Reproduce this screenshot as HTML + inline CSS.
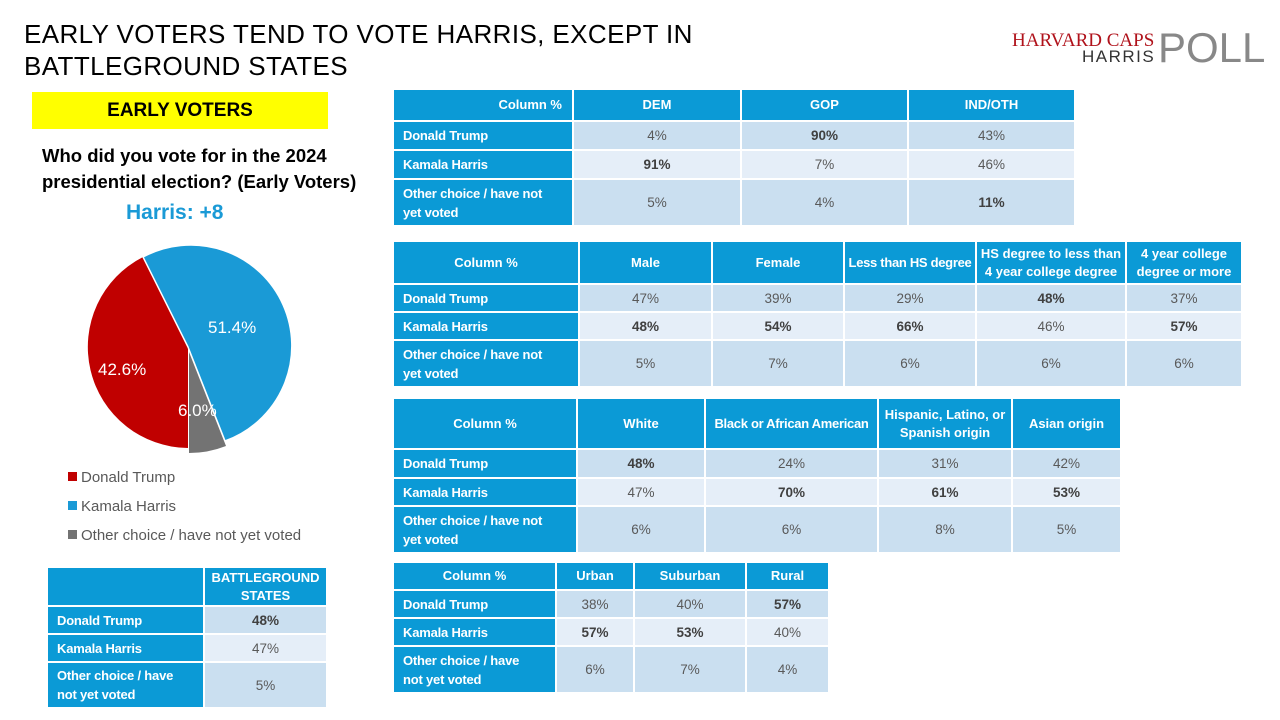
<!DOCTYPE html>
<html><head><meta charset="utf-8"><style>
body{margin:0;width:1280px;height:720px;background:#fff;position:relative;overflow:hidden;font-family:"Liberation Sans",sans-serif}
.t{position:absolute;border-collapse:separate;border-spacing:2px;table-layout:fixed;margin:-2px}
.t td{padding:0;font-size:13.5px;text-align:center;color:#595959;overflow:hidden}
.t td.h{background:#0b9ad6;color:#fff;font-weight:bold;font-size:13px;line-height:18px}
.t td.l{background:#0b9ad6;color:#fff;font-weight:bold;text-align:left;padding-left:9px;padding-right:4px;font-size:13px;line-height:19px;letter-spacing:-0.2px}
.t tr.a td:not(.l){background:#cadff0}
.t tr.b td:not(.l){background:#e5eef8}
.t b{color:#404040}
</style></head><body>
<div style="position:absolute;left:24px;top:18px;font-size:26px;line-height:32px;color:#000;letter-spacing:0.4px">EARLY VOTERS TEND TO VOTE HARRIS, EXCEPT IN<br>BATTLEGROUND STATES</div>
<div style="position:absolute;left:1012px;top:30px;font-family:'Liberation Serif',serif;font-size:19px;color:#b0121b;letter-spacing:0">HARVARD CAPS</div>
<div style="position:absolute;left:1082px;top:47px;font-size:17px;color:#333;letter-spacing:1.5px">HARRIS</div>
<div style="position:absolute;left:1158px;top:24px;font-size:42px;color:#888;letter-spacing:0">POLL</div>
<div style="position:absolute;left:32px;top:92px;width:296px;height:37px;background:#ffff00;text-align:center;line-height:37px;font-weight:bold;font-size:19px">EARLY VOTERS</div>
<div style="position:absolute;left:42px;top:143px;font-weight:bold;font-size:18.5px;line-height:26px">Who did you vote for in the 2024<br>presidential election? (Early Voters)</div>
<div style="position:absolute;left:126px;top:201px;font-weight:bold;font-size:21px;color:#1a9ad6">Harris: +8</div>
<svg style="position:absolute;left:0;top:0" width="400" height="720">
<path d="M188,347 L188,448 A101,101 0 0 1 143,257 Z" fill="#c00000"/>
<path d="M188,347 L143,257 A101,101 0 1 1 225,441 Z" fill="#1a9ad6" stroke="#fff" stroke-width="1.5"/>
<path d="M189,352 L226,446 A101,101 0 0 1 189,453 Z" fill="#737373"/>
<text x="98" y="375" fill="#fff" font-size="17" font-family="Liberation Sans">42.6%</text>
<text x="208" y="333" fill="#fff" font-size="17" font-family="Liberation Sans">51.4%</text>
<text x="178" y="416" fill="#fff" font-size="17" font-family="Liberation Sans">6.0%</text>
<rect x="68" y="472" width="9" height="9" fill="#c00000"/><text x="81" y="482" font-size="15" fill="#595959" font-family="Liberation Sans">Donald Trump</text>
<rect x="68" y="501" width="9" height="9" fill="#1a9ad6"/><text x="81" y="511" font-size="15" fill="#595959" font-family="Liberation Sans">Kamala Harris</text>
<rect x="68" y="530" width="9" height="9" fill="#737373"/><text x="81" y="540" font-size="15" fill="#595959" font-family="Liberation Sans">Other choice / have not yet voted</text>
</svg>

<table class="t" style="left:394px;top:90px">
<tr style="height:30px"><td class="h" style="width:178px;text-align:right;padding-right:10px;box-sizing:border-box">Column %</td><td class="h" style="width:166px">DEM</td><td class="h" style="width:165px">GOP</td><td class="h" style="width:165px">IND/OTH</td></tr>
<tr class="a" style="height:27px"><td class="l">Donald Trump</td><td>4%</td><td><b>90%</b></td><td>43%</td></tr>
<tr class="b" style="height:27px"><td class="l">Kamala Harris</td><td><b>91%</b></td><td>7%</td><td>46%</td></tr>
<tr class="a" style="height:45px"><td class="l">Other choice / have not<br>yet voted</td><td>5%</td><td>4%</td><td><b>11%</b></td></tr>
</table>

<table class="t" style="left:394px;top:242px">
<tr style="height:41px"><td class="h" style="width:184px">Column %</td><td class="h" style="width:131px">Male</td><td class="h" style="width:130px">Female</td><td class="h" style="width:130px;letter-spacing:-0.3px">Less than HS degree</td><td class="h" style="width:148px">HS degree to less than 4 year college degree</td><td class="h" style="width:114px">4 year college degree or more</td></tr>
<tr class="a" style="height:26px"><td class="l">Donald Trump</td><td>47%</td><td>39%</td><td>29%</td><td><b>48%</b></td><td>37%</td></tr>
<tr class="b" style="height:26px"><td class="l">Kamala Harris</td><td><b>48%</b></td><td><b>54%</b></td><td><b>66%</b></td><td>46%</td><td><b>57%</b></td></tr>
<tr class="a" style="height:45px"><td class="l">Other choice / have not<br>yet voted</td><td>5%</td><td>7%</td><td>6%</td><td>6%</td><td>6%</td></tr>
</table>

<table class="t" style="left:394px;top:399px">
<tr style="height:49px"><td class="h" style="width:182px">Column %</td><td class="h" style="width:126px">White</td><td class="h" style="width:171px;letter-spacing:-0.3px">Black or African American</td><td class="h" style="width:132px">Hispanic, Latino, or Spanish origin</td><td class="h" style="width:107px">Asian origin</td></tr>
<tr class="a" style="height:27px"><td class="l">Donald Trump</td><td><b>48%</b></td><td>24%</td><td>31%</td><td>42%</td></tr>
<tr class="b" style="height:26px"><td class="l">Kamala Harris</td><td>47%</td><td><b>70%</b></td><td><b>61%</b></td><td><b>53%</b></td></tr>
<tr class="a" style="height:45px"><td class="l">Other choice / have not<br>yet voted</td><td>6%</td><td>6%</td><td>8%</td><td>5%</td></tr>
</table>

<table class="t" style="left:394px;top:563px">
<tr style="height:26px"><td class="h" style="width:161px">Column %</td><td class="h" style="width:76px">Urban</td><td class="h" style="width:110px">Suburban</td><td class="h" style="width:81px">Rural</td></tr>
<tr class="a" style="height:26px"><td class="l">Donald Trump</td><td>38%</td><td>40%</td><td><b>57%</b></td></tr>
<tr class="b" style="height:26px"><td class="l">Kamala Harris</td><td><b>57%</b></td><td><b>53%</b></td><td>40%</td></tr>
<tr class="a" style="height:45px"><td class="l">Other choice / have<br>not yet voted</td><td>6%</td><td>7%</td><td>4%</td></tr>
</table>

<table class="t" style="left:48px;top:568px">
<tr style="height:37px"><td class="h" style="width:155px"></td><td class="h" style="width:121px">BATTLEGROUND STATES</td></tr>
<tr class="a" style="height:26px"><td class="l">Donald Trump</td><td><b>48%</b></td></tr>
<tr class="b" style="height:26px"><td class="l">Kamala Harris</td><td>47%</td></tr>
<tr class="a" style="height:44px"><td class="l">Other choice / have<br>not yet voted</td><td>5%</td></tr>
</table>
</body></html>
